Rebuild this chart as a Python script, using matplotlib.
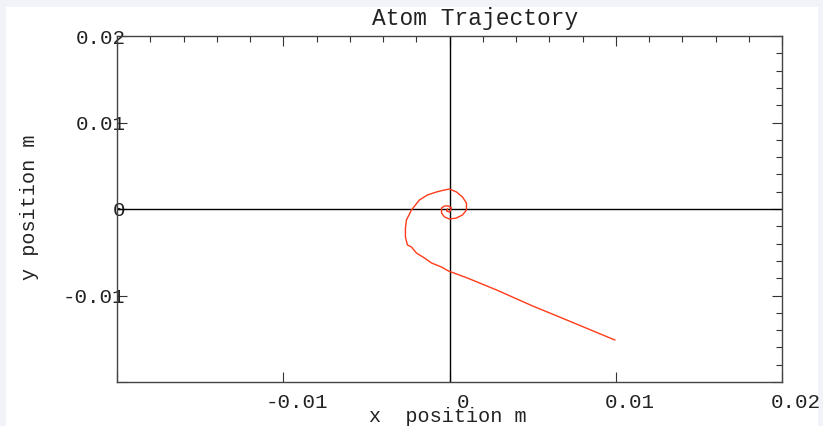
#atom trajectory plot, spiral into the origin
import matplotlib
matplotlib.use("Agg")
import matplotlib.pyplot as plt
from matplotlib.patches import Rectangle
from matplotlib.transforms import ScaledTranslation

plt.rcParams['font.family'] = ['Liberation Mono', 'DejaVu Sans']
plt.rcParams['axes.unicode_minus'] = False

#trajectory points (m), outer end first
x_pos = [0.00994, 0.00705, 0.00500, 0.00283, 0.00108, 0.00042, -0.00006, -0.00048,
         -0.00108, -0.00151, -0.00199, -0.00229, -0.00253, -0.00265, -0.00265, -0.00259,
         -0.00229, -0.00181, -0.00133, -0.00078, -0.00030, 0.0, 0.00042, 0.00078,
         0.00102, 0.00102, 0.00078, 0.00042, 0.0, -0.00030, -0.00048, -0.00048,
         -0.00030, -0.00006, 0.00012, 0.0, -0.00018, -0.00012]
y_pos = [-0.01514, -0.01283, -0.01121, -0.00936, -0.00798, -0.00751, -0.00717, -0.00671,
         -0.00624, -0.00566, -0.00509, -0.00439, -0.00416, -0.00324, -0.00220, -0.00127,
         -0.00012, 0.00104, 0.00162, 0.00197, 0.00220, 0.00231, 0.00197, 0.00139,
         0.00069, -0.00012, -0.00069, -0.00104, -0.00116, -0.00092, -0.00046, 0.00012,
         0.00035, 0.00035, 0.00012, -0.00035, -0.00023, 0.0]

x_ticks = [-0.02, -0.01, 0, 0.01, 0.02]
x_labels = ['', '-0.01', '0', '0.01', '0.02']
y_ticks = [-0.02, -0.01, 0, 0.01, 0.02]
y_labels = ['', '-0.01', '0', '0.01', '0.02']
minor_ticks = [i * 0.002 - 0.02 for i in range(21)]

fig = plt.figure(figsize=(8.23, 4.26), dpi=100)
fig.patch.set_facecolor('#f2f2f9')
fig.patches.append(Rectangle((6 / 823, 0), 812 / 823, 419 / 426, transform=fig.transFigure,
                             facecolor='white', edgecolor='none', zorder=-10))

ax = fig.add_axes([117 / 823, 44 / 426, 665 / 823, 346 / 426])
ax.set_facecolor('white')

ax.axhline(0, color='black', lw=1)
ax.axvline(0, color='black', lw=1)
ax.plot(x_pos, y_pos, c='#ff3b1a', lw=1)

ax.set_xlim(-0.02, 0.02)
ax.set_ylim(-0.02, 0.02)

ax.set_xticks(x_ticks)
ax.set_xticklabels(x_labels)
ax.set_yticks(y_ticks)
ax.set_yticklabels(y_labels)
ax.set_xticks(minor_ticks, minor=True)
ax.set_yticks(minor_ticks, minor=True)

ax.tick_params(axis='both', which='major', direction='in', length=7, width=0.8,
               color='#333333', labelsize=15, labelcolor='#222222', top=True, right=True)
ax.tick_params(axis='both', which='minor', direction='in', length=4, width=0.8,
               color='#333333', bottom=False, left=False, top=True, right=True)
ax.tick_params(axis='x', which='major', pad=8)
ax.tick_params(axis='y', which='major', pad=-6)

#shift x tick labels a bit to the right like the original
shift = ScaledTranslation(14 / 100, 0, fig.dpi_scale_trans)
for lbl in ax.get_xticklabels():
    lbl.set_transform(lbl.get_transform() + shift)

for s in ax.spines.values():
    s.set_color('#444444')
    s.set_linewidth(1)

fig.text(475 / 823, 1 - 19 / 426, "Atom Trajectory", fontsize=16.5, ha='center', va='center',
         color='#222222')
fig.text(448 / 823, 1 - 417 / 426, "x  position m", fontsize=14.5, ha='center', va='center',
         color='#222222')
fig.text(30 / 823, 1 - 207 / 426, "y position m", fontsize=14.5, ha='center', va='center',
         rotation=90, color='#222222')

fig.savefig('out.png', dpi=100, facecolor=fig.get_facecolor())
